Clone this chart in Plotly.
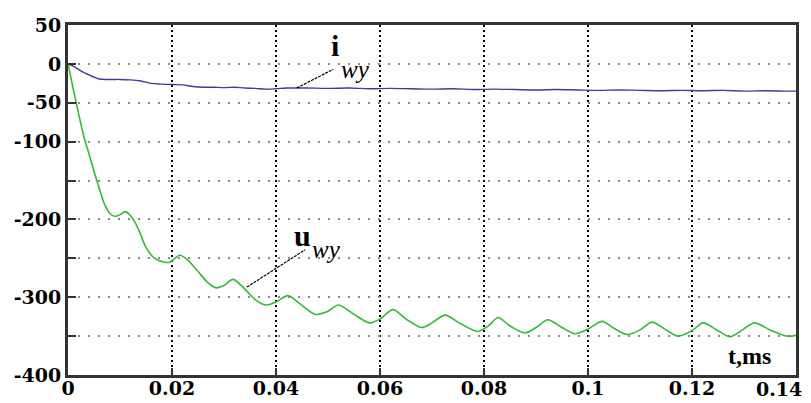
import plotly.graph_objects as go

# ---- data ----
t_i = [0, 0.001, 0.002, 0.003, 0.004, 0.005, 0.006, 0.008, 0.010, 0.012, 0.014, 0.016,
       0.018, 0.020, 0.022, 0.024, 0.026, 0.028, 0.030, 0.032, 0.034, 0.036, 0.038,
       0.040, 0.042, 0.044, 0.046, 0.050, 0.054, 0.058, 0.062, 0.066, 0.070, 0.074,
       0.078, 0.082, 0.086, 0.090, 0.094, 0.098, 0.102, 0.106, 0.110, 0.114, 0.118,
       0.122, 0.126, 0.130, 0.134, 0.138, 0.140]
i_wy = [0, -3, -7, -11, -14, -17, -19.5, -20, -20, -20.5, -22, -25,
        -26, -26.5, -27, -29, -30, -30, -30.5, -30, -31, -31.5, -32.5,
        -32, -31, -31, -31, -31.5, -31, -32, -31.5, -32, -32.5, -32,
        -33, -32.5, -33, -33.5, -33, -33.5, -34, -33.5, -34, -34.5, -34,
        -34.5, -34, -35, -34.5, -35, -35]

t_u = [0, 0.001, 0.002, 0.003, 0.004, 0.005, 0.006, 0.007, 0.008, 0.009, 0.010, 0.011,
       0.012, 0.013, 0.014, 0.015, 0.0165, 0.018, 0.0195, 0.0215, 0.023, 0.025, 0.027,
       0.0285, 0.030, 0.0317, 0.0335, 0.036, 0.038, 0.040, 0.0423, 0.0445, 0.0475,
       0.050, 0.052, 0.055, 0.058, 0.060, 0.0625, 0.065, 0.068, 0.070, 0.0725, 0.0755,
       0.0788, 0.081, 0.0827, 0.085, 0.0879, 0.090, 0.0923, 0.095, 0.0975, 0.100,
       0.1027, 0.105, 0.1075, 0.110, 0.1123, 0.115, 0.1173, 0.120, 0.1221, 0.125,
       0.1273, 0.1295, 0.132, 0.135, 0.1383, 0.140]
u_wy = [0, -32, -63, -92, -115, -138, -160, -180, -192, -196, -194, -190,
        -195, -205, -220, -236, -249, -254, -255, -246, -252, -267, -282,
        -288, -285, -277, -286, -303, -310, -306, -298, -308, -322,
        -318, -310, -322, -333, -328, -316, -328, -339, -333, -323, -334,
        -344, -336, -326, -337, -346, -339, -329, -339, -347, -341,
        -331, -340, -348, -342, -332, -342, -350, -343, -333, -343,
        -351, -343, -333, -342, -350, -349]

x_ticks = [0, 0.02, 0.04, 0.06, 0.08, 0.1, 0.12, 0.14]
x_labels = ["0", "0.02", "0.04", "0.06", "0.08", "0.1", "0.12", ""]
last_x_label = "0.14"
y_ticks = [50, 0, -50, -100, -150, -200, -250, -300, -350, -400]
y_labels = ["50", "0", "-50", "-100", "", "-200", "", "-300", "", "-400"]

fig = go.Figure()
fig.add_trace(go.Scatter(x=t_i, y=i_wy, mode="lines",
                         line=dict(color="#3d3d9c", width=1.4, shape="spline"),
                         showlegend=False))
fig.add_trace(go.Scatter(x=t_u, y=u_wy, mode="lines",
                         line=dict(color="#33bb33", width=1.6, shape="spline", smoothing=0.8),
                         showlegend=False))

# leader lines for labels
fig.add_shape(type="line", x0=0.0440, y0=-31, x1=0.0510, y1=-7,
              line=dict(color="black", width=1.2, dash="3px,1px"))
fig.add_shape(type="line", x0=0.0344, y0=-287, x1=0.0456, y1=-239,
              line=dict(color="black", width=1.2, dash="3px,1px"))

serif = "Liberation Serif"
fig.add_annotation(x=0.0513, y=24, text="<b>i</b>", showarrow=False,
                   font=dict(family=serif, size=30, color="black"))
fig.add_annotation(x=0.0553, y=-7, text="<i>wy</i>", showarrow=False,
                   font=dict(family=serif, size=25, color="black"))
fig.add_annotation(x=0.0450, y=-221, text="<b>u</b>", showarrow=False,
                   font=dict(family=serif, size=30, color="black"))
fig.add_annotation(x=0.0497, y=-238, text="<i>wy</i>", showarrow=False,
                   font=dict(family=serif, size=25, color="black"))
fig.add_annotation(x=0.1311, y=-376, text="<b>t,ms</b>", showarrow=False,
                   font=dict(family=serif, size=24, color="black"))

tickfont = dict(family="DejaVu Serif", size=19, color="black", weight="bold")

# last x tick label, pulled left so it stays inside the page like in the reference
fig.add_annotation(x=x_ticks[-1], xref="x", y=0, yref="paper", text=last_x_label,
                   showarrow=False, xanchor="right", yanchor="top", xshift=8, yshift=-1,
                   font=tickfont)

fig.update_xaxes(range=[0, 0.14], tickvals=x_ticks, ticktext=x_labels,
                 tickfont=tickfont, showline=True, linewidth=3, linecolor="#333",
                 mirror=True, ticks="inside", ticklen=7, tickwidth=2, tickcolor="#333",
                 showgrid=True, gridcolor="black", gridwidth=1.5, griddash="2px,3px",
                 zeroline=False, automargin=False, ticklabelstandoff=-6)
fig.update_yaxes(range=[-400, 50], tickvals=y_ticks, ticktext=y_labels,
                 tickfont=tickfont, showline=True, linewidth=3, linecolor="#333",
                 mirror=True, ticks="inside", ticklen=8, tickwidth=2, tickcolor="#333",
                 showgrid=True, gridcolor="#8a8a8a", gridwidth=1.5, griddash="2px,8px",
                 zeroline=False, automargin=False)

# page body has an 8px margin: size the figure so the plot box lands where the reference has it
fig.update_layout(width=803, height=395,
                  margin=dict(l=60, r=15, t=17, b=28),
                  plot_bgcolor="white", paper_bgcolor="white",
                  showlegend=False)

fig.write_html("out.html")
